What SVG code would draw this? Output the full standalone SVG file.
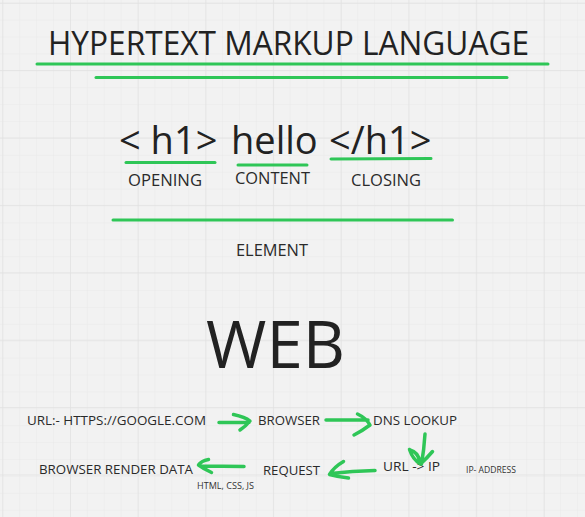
<svg xmlns="http://www.w3.org/2000/svg" width="585" height="517" viewBox="0 0 585 517">
<defs>
<pattern id="minor" x="2.3" y="2.7" width="16.9" height="16.9" patternUnits="userSpaceOnUse">
<path d="M0 0H16.9M0 0V16.9" fill="none" stroke="#e9e9e9" stroke-width="1"/>
</pattern>
<pattern id="major" x="2.3" y="2.7" width="67.7" height="67.4" patternUnits="userSpaceOnUse">
<path d="M0 0H67.7M0 0V67.4" fill="none" stroke="#e1e1e1" stroke-width="1.3"/>
</pattern>
<style>
text{font-family:"Open Sans","Noto Sans","DejaVu Sans",sans-serif;fill:#222}
.g{fill:none;stroke:#2fc657;stroke-width:3;stroke-linecap:round;stroke-linejoin:round}
.a{fill:none;stroke:#2fc657;stroke-width:3.5;stroke-linecap:round;stroke-linejoin:round}
.s{font-size:13px;fill:#2a2a2a}
.xs{font-size:9px;fill:#333}
.l{font-size:16px;fill:#2a2a2a}
</style>
</defs>
<rect width="585" height="517" fill="#f2f2f2"/>
<rect width="585" height="517" fill="url(#minor)"/>
<rect width="585" height="517" fill="url(#major)"/>

<g id="title">
<text x="48" y="55" font-size="32" textLength="481" lengthAdjust="spacingAndGlyphs">HYPERTEXT MARKUP LANGUAGE</text>
</g>
<g id="element-row">
<text x="119" y="154" font-size="38">&lt; h1&gt;</text>
<text x="231" y="154" font-size="38">hello</text>
<text x="329" y="154" font-size="38">&lt;/h1&gt;</text>
</g>
<g id="labels">
<text class="l" x="128" y="186" textLength="74" lengthAdjust="spacingAndGlyphs">OPENING</text>
<text class="l" x="235" y="184" textLength="75" lengthAdjust="spacingAndGlyphs">CONTENT</text>
<text class="l" x="351" y="186" textLength="70" lengthAdjust="spacingAndGlyphs">CLOSING</text>
<text class="l" x="236" y="256" textLength="72" lengthAdjust="spacingAndGlyphs">ELEMENT</text>
</g>
<g id="web">
<text x="206" y="368" font-size="65" textLength="139" lengthAdjust="spacingAndGlyphs">WEB</text>
</g>
<g id="flow">
<text class="s" x="27" y="425" textLength="179" lengthAdjust="spacingAndGlyphs">URL:- HTTPS://GOOGLE.COM</text>
<text class="s" x="258" y="425" textLength="62" lengthAdjust="spacingAndGlyphs">BROWSER</text>
<text class="s" x="373" y="425" textLength="84" lengthAdjust="spacingAndGlyphs">DNS LOOKUP</text>
<text class="s" x="383" y="471" textLength="57" lengthAdjust="spacingAndGlyphs">URL -&gt; IP</text>
<text class="xs" x="466" y="473" textLength="50" lengthAdjust="spacingAndGlyphs">IP- ADDRESS</text>
<text class="s" x="263" y="475" textLength="57" lengthAdjust="spacingAndGlyphs">REQUEST</text>
<text class="s" x="39" y="474" textLength="154" lengthAdjust="spacingAndGlyphs">BROWSER RENDER DATA</text>
<text class="xs" x="197" y="489" textLength="57" lengthAdjust="spacingAndGlyphs">HTML, CSS, JS</text>
</g>
<g id="connectors">
<path class="g" d="M37 64L548 64"/>
<path class="g" d="M96 77.5L507 77.5"/>
<path class="g" d="M126 162.5L215 162.5"/>
<path class="g" d="M238 165L307 165"/>
<path class="g" d="M331 159L431 158.5"/>
<path class="g" d="M113 220L452.5 220"/>
<path class="a" d="M219 422.5L249 422.5M233.5 414.5Q245 417 250 421Q246 426 240 430"/>
<path class="a" d="M326 420L368 420M357.5 414Q366 418 370 425Q362 431 354 435"/>
<path class="a" d="M425 434Q424 450 421.5 464M409.5 449.5Q413 460 420.5 464Q427 458 432.5 451.5M410 450Q418 452 420 462"/>
<path class="a" d="M375 470.5Q352 471 331 473.5M343.5 461.5Q334 467 329.5 474.5Q339 477 348.5 478"/>
<path class="a" d="M244 466.5L201 466M208.5 459.5Q201 461 198.5 465Q204 469 211.5 472.5"/>
</g>
</svg>
